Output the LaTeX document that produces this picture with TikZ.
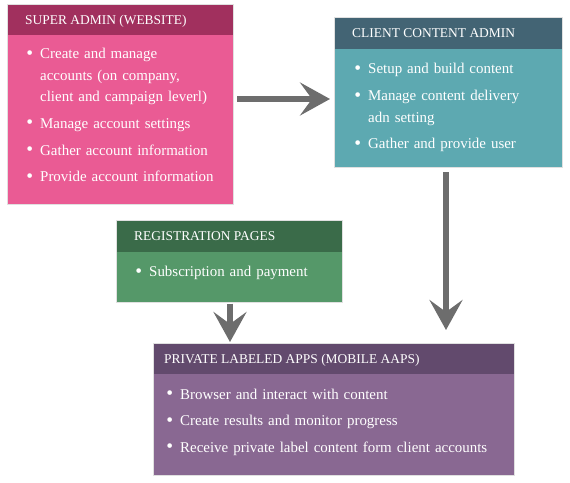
\documentclass[tikz,border=0pt]{standalone}
\usepackage{fontspec}
\usepackage{graphicx}
\setmainfont{Liberation Serif}
\usetikzlibrary{arrows.meta}
\definecolor{pinkbody}{HTML}{EA5B94}
\definecolor{pinkhead}{HTML}{A1305E}
\definecolor{tealbody}{HTML}{5DA9B1}
\definecolor{tealhead}{HTML}{436474}
\definecolor{greenbody}{HTML}{559869}
\definecolor{greenhead}{HTML}{3A6B49}
\definecolor{purplebody}{HTML}{896892}
\definecolor{purplehead}{HTML}{624A6D}
\definecolor{arrowgray}{HTML}{6D6D6D}
\newcommand{\bul}{\noindent\llap{\raisebox{-0.4bp}{\scalebox{1.3}{\textbullet}}\hspace{7bp}}}
\tikzset{
  boxbody/.style={anchor=north west, inner sep=0, outer sep=0, draw=none},
  boxhead/.style={anchor=north west, inner sep=0, outer sep=0, draw=none},
  outline/.style={draw=black!12, line width=0.8bp},
  hdrtext/.style={anchor=base west, inner sep=0, text=white, font=\fontsize{13.5}{16}\selectfont},
  listtext/.style={anchor=base west, inner sep=0, text=white, text width=#1, align=left,
    font=\fontsize{15}{21.5}\selectfont\setlength{\parskip}{5.2bp}},
  flow/.style={draw=arrowgray, line width=5.5bp, -{Stealth[length=30bp,width=33bp,inset=12bp]}},
}
\begin{document}
\begin{tikzpicture}[x=1bp,y=-1bp]
\useasboundingbox (0,0) rectangle (570,483);
% Super admin
\node[boxbody, fill=pinkbody, minimum width=226bp, minimum height=200bp] (sa) at (7,4) {};
\node[boxhead, fill=pinkhead, minimum width=226bp, minimum height=31bp] (sah) at (sa.north west) {};
\draw[outline] (sa.north west) rectangle (sa.south east);
\node[hdrtext] (sat) at (25,24.5) {SUPER ADMIN (WEBSITE)};
\node[listtext=190bp] (sal) at (40,59) {\bul Create and manage\newline accounts (on company,\newline client and campaign leverl)\par
\bul Manage account settings\par
\bul Gather account information\par
\bul Provide account information};
% Client content admin
\node[boxbody, fill=tealbody, minimum width=227.5bp, minimum height=150bp] (cc) at (334.5,17) {};
\node[boxhead, fill=tealhead, minimum width=227.5bp, minimum height=32bp] (cch) at (cc.north west) {};
\draw[outline] (cc.north west) rectangle (cc.south east);
\node[hdrtext] (cct) at (352,37.7) {CLIENT CONTENT ADMIN};
\node[listtext=190bp] (ccl) at (368,74) {\bul Setup and build content\par
\bul Manage content delivery\newline adn setting\par
\bul Gather and provide user};
% Registration pages
\node[boxbody, fill=greenbody, minimum width=226bp, minimum height=82bp] (rp) at (116,220) {};
\node[boxhead, fill=greenhead, minimum width=226bp, minimum height=32bp] (rph) at (rp.north west) {};
\draw[outline] (rp.north west) rectangle (rp.south east);
\node[hdrtext] (rpt) at (134,240.5) {REGISTRATION PAGES};
\node[listtext=190bp] (rpl) at (149,276.7) {\bul Subscription and payment};
% Private labeled apps
\node[boxbody, fill=purplebody, minimum width=361bp, minimum height=132bp] (pa) at (153,343) {};
\node[boxhead, fill=purplehead, minimum width=361bp, minimum height=31bp] (pah) at (pa.north west) {};
\draw[outline] (pa.north west) rectangle (pa.south east);
\node[hdrtext] (pat) at (164,363) {PRIVATE LABELED APPS (MOBILE AAPS)};
\node[listtext=330bp] (pal) at (180,399) {\bul Browser and interact with content\par
\bul Create results and monitor progress\par
\bul Receive private label content form client accounts};
% arrows
\draw[flow, shorten >=4.5bp] ([xshift=4bp]sa.east |- 0,99) -- (cc.west |- 0,99);
\draw[flow, shorten >=13bp] ([yshift=-5bp]cc.south -| 446,0) -- (pa.north -| 446,0);
\draw[flow, shorten >=1bp] ([yshift=-1.5bp]rp.south -| 230,0) -- (pa.north -| 230,0);
\end{tikzpicture}
\end{document}
